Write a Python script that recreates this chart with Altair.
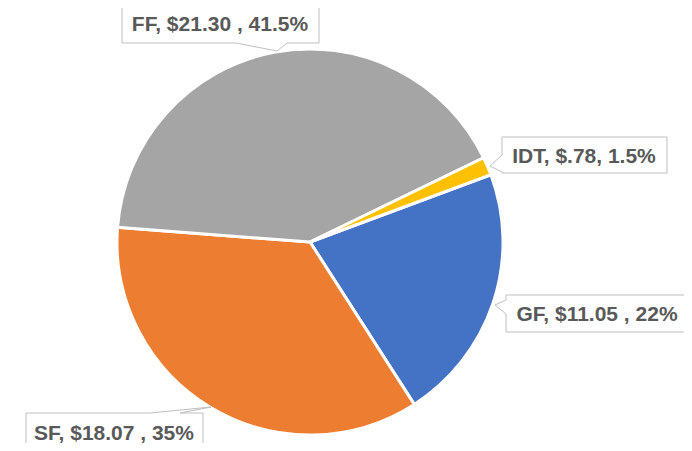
import math
import altair as alt
import pandas as pd

# ---- data ----
categories = ["GF", "SF", "FF", "IDT"]
values = [11.05, 18.07, 21.30, 0.78]
label_texts = ["GF, $11.05 , 22%", "SF, $18.07 , 35%", "FF, $21.30 , 41.5%", "IDT, $.78, 1.5%"]
colors = ["#4472C4", "#ED7D31", "#A5A5A5", "#FFC000"]

# ---- layout (pixels in chart space) ----
W, H = 676, 435
OFF = 8
CX, CY, R = 310 - OFF, 242 - OFF, 193
START = math.radians(69.6)

# callout boxes (screen coords) : x1, y1, x2, y2, text x, text y
boxes = {
    "GF": (506, 295, 689, 332, 597, 315),
    "SF": (26, 413, 203, 470, 114, 434),
    "FF": (122, 5, 319, 43, 220, 25),
    "IDT": (502, 137, 667, 173, 584, 157),
}
# pointers: base1, apex, base2
pointers = {
    "GF": ((506, 300), (495, 305), (506, 314)),
    "SF": ((150, 413), (211, 407), (180, 413)),
    "FF": ((236, 43), (277, 51), (287, 43)),
    "IDT": ((502, 155), (490, 166), (502, 172)),
}

pie_df = pd.DataFrame({"cat": categories, "value": values, "idx": list(range(len(categories)))})

box_rows, cover_rows, ptr_rows = [], [], []
for c, t in zip(categories, label_texts):
    x1, y1, x2, y2, tx, ty = boxes[c]
    box_rows.append({"cat": c, "x1": x1 - OFF, "y1": y1 - OFF, "x2": x2 - OFF, "y2": y2 - OFF,
                     "tx": tx - OFF, "ty": ty - OFF, "text": t})
    b1, ap, b2 = pointers[c]
    cover_rows.append({"cat": c, "x1": b1[0] - OFF, "y1": b1[1] - OFF, "x2": b2[0] - OFF, "y2": b2[1] - OFF})
    for i, p in enumerate((b1, ap, b2)):
        ptr_rows.append({"cat": c, "i": i, "x": p[0] - OFF, "y": p[1] - OFF})

box_df = pd.DataFrame(box_rows)
cover_df = pd.DataFrame(cover_rows)
ptr_df = pd.DataFrame(ptr_rows)

xs = alt.Scale(domain=[0, W], nice=False, zero=False)
ys = alt.Scale(domain=[0, H], nice=False, zero=False, reverse=True)

pie = alt.Chart(pie_df).mark_arc(radius=R, stroke="white", strokeWidth=3).encode(
    theta=alt.Theta("value:Q", stack=True, scale=alt.Scale(range=[START, START + 2 * math.pi])),
    order=alt.Order("idx:Q"),
    color=alt.Color("cat:N", scale=alt.Scale(domain=categories, range=colors), legend=None),
    x=alt.value(CX),
    y=alt.value(CY),
)

rects = alt.Chart(box_df).mark_rect(fill="white", stroke="#BFBFBF", strokeWidth=1).encode(
    x=alt.X("x1:Q", scale=xs, axis=None), x2="x2:Q",
    y=alt.Y("y1:Q", scale=ys, axis=None), y2="y2:Q",
)

covers = alt.Chart(cover_df).mark_rule(stroke="white", strokeWidth=2).encode(
    x=alt.X("x1:Q", scale=xs, axis=None), x2="x2:Q",
    y=alt.Y("y1:Q", scale=ys, axis=None), y2="y2:Q",
)

ptrs = alt.Chart(ptr_df).mark_line(stroke="#BFBFBF", strokeWidth=1).encode(
    x=alt.X("x:Q", scale=xs, axis=None),
    y=alt.Y("y:Q", scale=ys, axis=None),
    detail="cat:N",
    order="i:Q",
)

texts = alt.Chart(box_df).mark_text(
    font="Liberation Sans", fontWeight="bold", fontSize=21, color="#595959",
    align="center", baseline="middle",
).encode(
    x=alt.X("tx:Q", scale=xs, axis=None),
    y=alt.Y("ty:Q", scale=ys, axis=None),
    text="text:N",
)

chart = alt.layer(pie, rects, covers, ptrs, texts).properties(
    width=W, height=H, autosize="none", padding=0
).configure_view(stroke=None)

chart.save("out.html", embed_options={"renderer": "svg", "actions": False})
